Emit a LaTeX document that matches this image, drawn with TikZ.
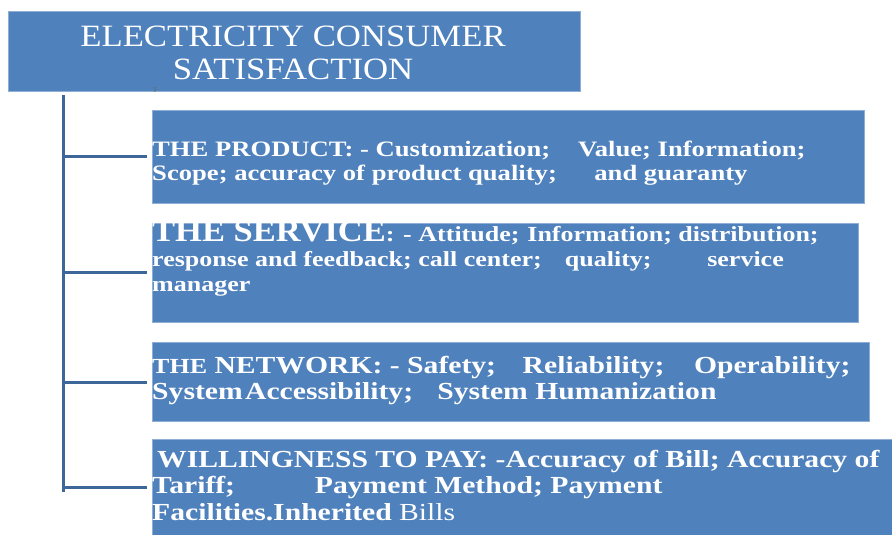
\documentclass[tikz,border=0pt]{standalone}
\usepackage{graphicx}
\usepackage{fontspec}
\setmainfont{Liberation Serif}
\definecolor{boxblue}{HTML}{4F81BD}
\definecolor{boxedge}{HTML}{8FAED6}
\definecolor{linkblue}{HTML}{3D6699}
% horizontally widened text line
\newcommand{\wideline}[2][1.21]{\scalebox{#1}[1]{#2}}
\begin{document}
\begin{tikzpicture}[x=1pt,y=-1pt,
  panel/.style={draw=boxedge,line width=0.8pt,fill=boxblue,anchor=north west,inner sep=0pt},
  heading/.style={anchor=base,inner sep=0pt,text=white,font=\fontsize{31}{31}\selectfont},
  row/.style={anchor=base west,inner sep=0pt,text=white,font=\bfseries\fontsize{#1}{#1}\selectfont},
  link/.style={draw=linkblue,line width=3pt}]
\useasboundingbox (0,0) rectangle (892,535);
% title box
\node[panel,minimum width=572pt,minimum height=80pt] (title) at (8,11) {};
\node[heading] (title1) at (293,47) {\wideline[1.12]{ELECTRICITY CONSUMER}};
\node[heading] (title2) at (293,80) {\wideline[1.12]{SATISFACTION}};
\node[text=black!60,inner sep=0pt,font=\fontsize{7}{7}\selectfont,anchor=north] (tmark) at (155,87.5) {T};
% category boxes
\node[panel,minimum width=712pt,minimum height=93pt] (product) at (152,110) {};
\node[panel,minimum width=706pt,minimum height=99pt] (service) at (152,222.5) {};
\node[panel,minimum width=717pt,minimum height=79pt] (network) at (152,341.5) {};
\node[panel,minimum width=745pt,minimum height=99pt] (pay) at (152,439) {};
% product
\node[row=22] (product1) at (152,156.5)
  {\wideline{THE PRODUCT: - Customization;\hspace{23pt}Value; Information;}};
\node[row=22] (product2) at (152,180.5)
  {\wideline{Scope; accuracy of product quality;\hspace{31pt}and guaranty}};
% service
\node[row=21.5] (service1) at (152,241.7)
  {\wideline{{\fontsize{31}{31}\selectfont\scalebox{0.92}[1]{THE SERVICE}}: - Attitude;\hspace{6.5pt}Information; distribution;}};
\node[row=21.5] (service2) at (152,266.7)
  {\wideline{response and feedback; call center;\hspace{19pt}quality;\hspace{46pt}service}};
\node[row=21.5] (service3) at (152,291)
  {\wideline{manager}};
% network
\node[row=24.5] (network1) at (152,373.3)
  {\wideline{{\fontsize{21.5}{21.5}\selectfont THE} NETWORK: - Safety;\hspace{22pt}Reliability;\hspace{24.5pt}Operability;}};
\node[row=24.5] (network2) at (152,399)
  {\wideline{System\hspace{2pt}Accessibility;\hspace{20pt}System Humanization}};
% willingness to pay
\node[row=24.5] (pay1) at (157,467.3)
  {\wideline{WILLINGNESS TO PAY: -Accuracy of Bill; Accuracy of}};
\node[row=24.5] (pay2) at (152,493.3)
  {\wideline{Tariff;\hspace{66pt}Payment Method; Payment}};
\node[row=24.5] (pay3) at (152,520)
  {\wideline{Facilities.Inherited {\mdseries Bills}}};
% connectors
\coordinate (trunktop) at (63,95);
\coordinate (trunkbot) at (63,491.5);
\draw[link] (trunktop) -- (trunkbot);
\draw[link] ([yshift=0.5pt]product.west -| trunktop) -- ([xshift=-5pt,yshift=0.5pt]product.west);
\draw[link] ([yshift=-0.5pt]service.west -| trunktop) -- ([xshift=-5pt,yshift=-0.5pt]service.west);
\draw[link] ([yshift=-1.5pt]network.west -| trunktop) -- ([xshift=-5pt,yshift=-1.5pt]network.west);
\draw[link] ([yshift=1pt]pay.west -| trunktop) -- ([xshift=-5pt,yshift=1pt]pay.west);
\end{tikzpicture}
\end{document}
